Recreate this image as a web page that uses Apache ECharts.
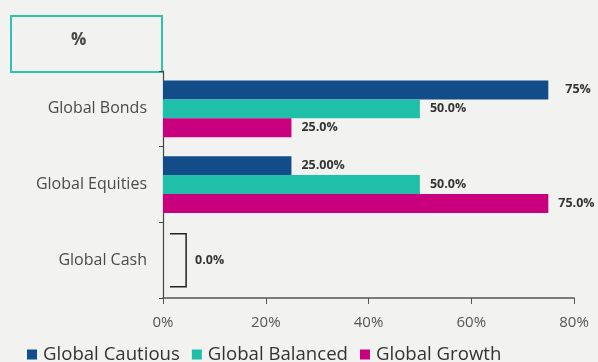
<!DOCTYPE html>
<html><head><meta charset="utf-8">
<script src="https://cdn.jsdelivr.net/npm/echarts@6/dist/echarts.min.js"></script>
<style>html,body{margin:0;padding:0;background:#f2f2f1;}#c{width:598px;height:362px;}</style>
</head><body><div id="c"></div>
<script>
var categories = ['Global Bonds', 'Global Equities', 'Global Cash'];
var seriesNames = ['Global Cautious', 'Global Balanced', 'Global Growth'];
var cautious = [75, 25, 0];
var balanced = [50, 50, 0];
var growth = [25, 75, 0];
var cautiousLabels = ['75%', '25.00%', ''];
var balancedLabels = ['50.0%', '50.0%', ''];
var growthLabels = ['25.0%', '75.0%', ''];
var cashBracket = [4.5];
var cashLabel = ['0.0%'];
var xTicks = [0, 20, 40, 60, 80];

var FONT = '"Open Sans", sans-serif';
var colors = ['#124c89', '#1fbfa9', '#c8007e'];

function barSeries(name, vals, labels, color, extra) {
  return {
    name: name, type: 'bar', barGap: '0%', barCategoryGap: '25%',
    data: vals.map(function (v, i) {
      var d = { value: v };
      if (extra && extra[i]) d.label = { distance: extra[i] };
      return d;
    }),
    itemStyle: { color: color },
    label: {
      show: true, position: 'right', distance: 10,
      fontFamily: FONT, fontWeight: 'bold', fontSize: 12.5, color: '#333',
      formatter: function (p) { return labels[p.dataIndex]; }
    }
  };
}

var chart = echarts.init(document.getElementById('c'));
chart.setOption({
  animation: false,
  backgroundColor: '#f2f2f1',
  color: colors,
  grid: { left: 163, right: 24, top: 71, bottom: 64 },
  legend: {
    data: seriesNames, left: 27, top: 345, padding: 0, icon: 'rect', itemWidth: 10, itemHeight: 10, itemGap: 12,
    textStyle: { fontFamily: FONT, fontSize: 18.6, color: '#333', padding: [0, 0, 0, 1] }
  },
  xAxis: {
    type: 'value', min: 0, max: 80, interval: 20,
    axisLine: { show: true, lineStyle: { color: '#555', width: 1.5 } },
    axisTick: { show: true, length: 6, lineStyle: { color: '#555' } },
    splitLine: { show: false },
    axisLabel: { fontFamily: FONT, fontSize: 15, color: '#555', margin: 17,
      formatter: function (v) { return xTicks.indexOf(v) >= 0 ? v + '%' : ''; } }
  },
  yAxis: {
    type: 'category', data: categories, inverse: true,
    axisLine: { show: true, lineStyle: { color: '#444', width: 1.2 } },
    axisTick: { show: true, length: 4, lineStyle: { color: '#444' } },
    axisLabel: { fontFamily: FONT, fontSize: 16, color: '#4a4a4a', margin: 16 }
  },
  graphic: [{
    type: 'group', left: 10, top: 15,
    children: [
      { type: 'rect', shape: { x: 0, y: 0, width: 151, height: 56 },
        style: { fill: 'rgba(0,0,0,0)', stroke: '#2ec4ab', lineWidth: 2 } },
      { type: 'text', x: 60, y: 16,
        style: { text: '%', font: 'bold 17px "Open Sans", sans-serif', fill: '#444' } }
    ]
  }],
  series: [
    barSeries(seriesNames[0], cautious, cautiousLabels, colors[0], [17]),
    barSeries(seriesNames[1], balanced, balancedLabels, colors[1]),
    barSeries(seriesNames[2], growth, growthLabels, colors[2]),
    {
      type: 'custom', name: 'bracket', silent: true,
      data: [[cashBracket[0], 2]],
      encode: { x: 0, y: 1 },
      renderItem: function (params, api) {
        var p0 = api.coord([0, api.value(1)]);
        var p1 = api.coord([api.value(0), api.value(1)]);
        var h = api.size([0, 1])[1] * 0.35;
        var x0 = p0[0] + 7;
        return {
          type: 'group', children: [
            { type: 'polyline', shape: { points: [[x0, p0[1] - h], [p1[0], p1[1] - h], [p1[0], p1[1] + h], [x0, p0[1] + h]] },
              style: { stroke: '#222', lineWidth: 1.5, fill: null } },
            { type: 'text', x: p1[0] + 9, y: p1[1],
              style: { text: cashLabel[0], font: 'bold 12.5px "Open Sans", sans-serif', fill: '#333', textVerticalAlign: 'middle' } }
          ]
        };
      }
    }
  ]
});
</script></body></html>
